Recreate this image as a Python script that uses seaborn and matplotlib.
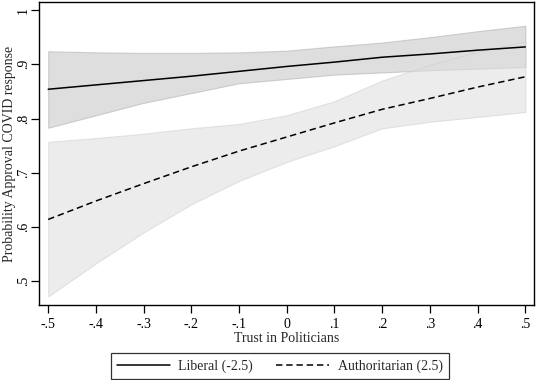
import numpy as np
import pandas as pd
import matplotlib
matplotlib.use("Agg")
import matplotlib.pyplot as plt
import seaborn as sns
from matplotlib.lines import Line2D

# values (predictive margins)
trust = [-0.5, -0.4, -0.3, -0.2, -0.1, 0.0, 0.1, 0.2, 0.3, 0.4, 0.5]

liberal_mean = [0.854, 0.862, 0.870, 0.878, 0.887, 0.896, 0.904, 0.913, 0.919, 0.926, 0.932]
liberal_lo = [0.783, 0.806, 0.829, 0.847, 0.865, 0.873, 0.881, 0.885, 0.889, 0.892, 0.895]
liberal_hi = [0.924, 0.922, 0.921, 0.921, 0.922, 0.925, 0.933, 0.940, 0.950, 0.961, 0.971]

auth_mean = [0.614, 0.648, 0.680, 0.711, 0.740, 0.766, 0.792, 0.817, 0.837, 0.858, 0.877]
auth_lo = [0.472, 0.533, 0.590, 0.642, 0.685, 0.720, 0.749, 0.782, 0.794, 0.803, 0.812]
auth_hi = [0.757, 0.764, 0.772, 0.782, 0.790, 0.806, 0.832, 0.870, 0.899, 0.923, 0.942]

x_ticks = [-0.5, -0.4, -0.3, -0.2, -0.1, 0.0, 0.1, 0.2, 0.3, 0.4, 0.5]
x_labels = ["-.5", "-.4", "-.3", "-.2", "-.1", "0", ".1", ".2", ".3", ".4", ".5"]
y_ticks = [0.5, 0.6, 0.7, 0.8, 0.9, 1.0]
y_labels = [".5", ".6", ".7", ".8", ".9", "1"]

sns.set_style("ticks")
plt.rcParams["font.family"] = ["Liberation Serif", "DejaVu Serif"]

df = pd.DataFrame({
    "trust": trust * 2,
    "prob": liberal_mean + auth_mean,
    "group": ["Liberal (-2.5)"] * len(trust) + ["Authoritarian (2.5)"] * len(trust),
})

fig = plt.figure(figsize=(5.36, 3.8), dpi=100)
ax = fig.add_axes([0.073, 0.197, 0.924, 0.798])

ax.fill_between(trust, liberal_lo, liberal_hi, facecolor="#c8c8c8", alpha=0.6,
                edgecolor="#b4b4b4", linewidth=0.8, zorder=1)
ax.fill_between(trust, auth_lo, auth_hi, facecolor="#dedede", alpha=0.55,
                edgecolor="#cfcfcf", linewidth=0.8, zorder=1)

sns.lineplot(data=df, x="trust", y="prob", style="group",
             dashes={"Liberal (-2.5)": "", "Authoritarian (2.5)": (4.2, 2.5)},
             color="black", linewidth=1.1, ax=ax, legend=False, zorder=3)

ax.set_xlim(-0.519, 0.519)
ax.set_ylim(0.456, 1.015)
ax.set_xticks(x_ticks)
ax.set_xticklabels(x_labels)
ax.set_yticks(y_ticks)
ax.set_yticklabels(y_labels, rotation=90, va="center")
ax.tick_params(direction="out", length=5.5, width=0.9, labelsize=10, colors="black")
ax.tick_params(axis="x", pad=4)
ax.tick_params(axis="y", pad=1)
for s in ax.spines.values():
    s.set_visible(True)
    s.set_color("black")
    s.set_linewidth(1.0)

ax.set_xlabel("Trust in Politicians", fontsize=10)
ax.xaxis.set_label_coords(0.5, -0.09)
ax.set_ylabel("Probability Approval COVID response", fontsize=10)
ax.yaxis.set_label_coords(-0.047, 0.5)

handles = [Line2D([], [], color="black", lw=1.1),
           Line2D([], [], color="black", lw=1.1, dashes=(4.2, 2.5))]
leg = fig.legend(handles, ["Liberal (-2.5)", "Authoritarian (2.5)"], ncol=2,
                 loc="lower center", bbox_to_anchor=(0.522, 0.003), frameon=True,
                 fancybox=False, edgecolor="black", fontsize=10,
                 handlelength=3.8, handletextpad=0.6, columnspacing=1.7,
                 borderpad=0.45, borderaxespad=0)
leg.get_frame().set_linewidth(0.9)

fig.savefig("out.png", dpi=100)
